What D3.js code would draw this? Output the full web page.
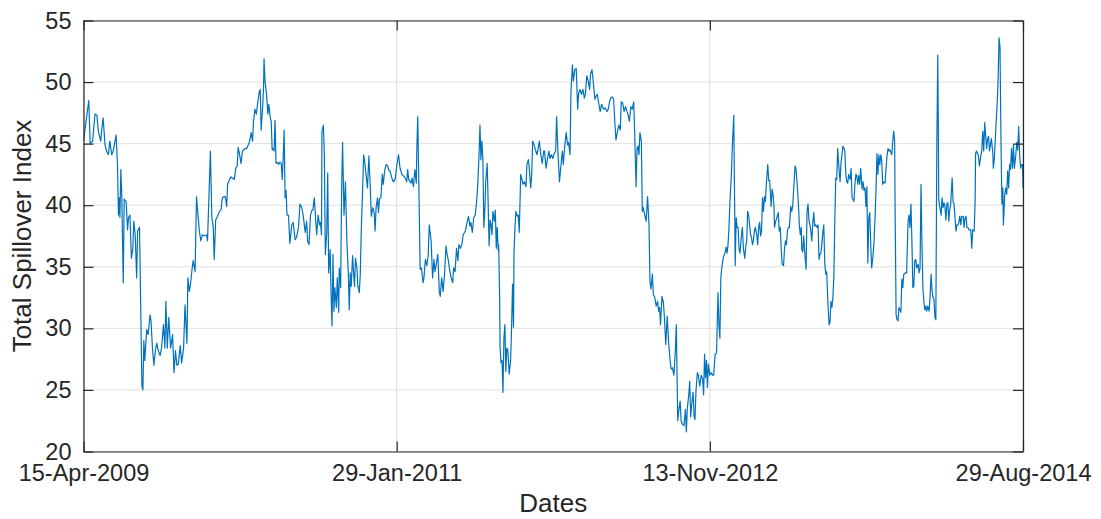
<!DOCTYPE html>
<html>
<head>
<meta charset="utf-8">
<script src="https://cdn.jsdelivr.net/npm/d3@7"></script>
<style>
  body { margin: 0; background: #fff; }
  #chart text { font-family: "Liberation Sans", Arial, Helvetica, sans-serif; fill: #262626; }
</style>
</head>
<body>
<div id="chart"></div>
<script>
// days elapsed since 15-Apr-2009 for each reading
const dayOffsets = [
  0, 11, 14, 19, 24, 28, 31, 36, 38, 41, 45, 48, 52, 55, 59, 62, 68, 71, 73, 75, 76, 78, 80, 83, 85, 89, 92, 94, 97, 100,
  103, 105, 108, 111, 113, 117, 122, 124, 126, 128, 132, 135, 139, 141, 144, 147, 150, 153, 156, 160, 163, 167, 170, 172, 175, 178, 182, 186, 189, 192,
  195, 198, 202, 205, 209, 212, 216, 218, 221, 224, 227, 229, 233, 236, 239, 242,
  245, 248, 252, 257, 259, 265, 268, 271, 273, 276, 280, 284, 287, 290, 293, 296, 299, 301, 305, 308, 311, 315, 318, 321, 323, 326, 329, 332, 335, 337,
  341, 344, 347, 350, 353, 355, 358, 361, 364, 367, 369, 371, 374, 376, 377, 379, 382, 385, 387, 390, 392, 394, 396, 398, 400, 402, 405, 407, 410, 413,
  415, 417, 419, 421, 423, 425, 428, 431, 435, 438, 442, 445, 449, 452, 456, 459, 463, 466, 468, 471, 474, 477, 479, 482,
  485, 487, 490, 493, 495, 497, 498, 501, 503, 505, 508, 510, 512, 515, 517, 519, 521, 523, 525, 528, 530, 533, 534, 537, 539, 541, 544, 547, 550, 553,
  555, 557, 559, 562, 564, 566, 568, 571, 573, 576, 578, 580, 583, 585, 587, 590, 593, 596, 599, 601, 604, 607, 609, 611, 614, 616, 618, 621, 624, 626,
  629, 632, 635, 638, 640, 644, 647, 651, 654, 658, 661, 665, 668, 672, 675, 677, 679, 682, 684, 686, 689, 692, 695, 696, 698, 700, 703, 706, 709, 711,
  714, 717, 720, 722,
  726, 729, 732, 734, 737, 740, 743, 745, 748, 751, 754, 757, 759, 762, 765, 768, 771, 773, 776, 779, 782, 784, 787, 790, 793, 796, 798, 801, 804, 807,
  809, 812, 815, 818, 821, 823, 826, 828, 830, 832, 834, 836, 838, 840, 843, 845, 847, 849, 851, 853, 855, 858, 860, 862, 864, 866, 867, 869, 870, 872,
  874, 876, 878, 880, 882, 884, 886, 889, 892, 894, 896, 898, 899, 901, 903, 906, 908, 910, 913, 915, 918, 921, 924, 926, 929, 931, 934, 936, 938, 941,
  944, 947, 949, 952, 955, 958, 961, 963,
  964, 966, 969, 972, 974, 977, 980, 983, 986, 988, 991, 994, 997, 1000, 1002, 1005, 1008, 1011, 1013, 1016, 1018, 1021, 1023, 1026, 1029, 1032, 1034, 1037, 1040, 1043,
  1046, 1048, 1051, 1054, 1057, 1059, 1062, 1065, 1068, 1071, 1073, 1076, 1079, 1082, 1085, 1087, 1090, 1093, 1096, 1098, 1101, 1104, 1107, 1110, 1112, 1115, 1118, 1121, 1123, 1126,
  1129, 1132, 1135, 1137, 1140, 1143, 1146, 1149, 1151, 1154, 1156, 1158, 1160, 1162, 1165, 1167, 1169, 1172, 1175, 1178, 1181, 1183, 1185, 1188, 1190, 1193, 1196, 1199, 1201, 1203,
  1205, 1208, 1211, 1213, 1216, 1219, 1222, 1225, 1227, 1230, 1233, 1236, 1238, 1241, 1243, 1246, 1248, 1251, 1254, 1257, 1259, 1261, 1264, 1266, 1268, 1270, 1273, 1275, 1277, 1279,
  1282, 1284, 1287, 1290, 1293, 1295, 1297, 1299, 1301, 1303, 1305, 1308, 1311, 1314, 1316, 1319, 1322, 1325, 1327, 1329, 1331, 1333, 1335, 1337, 1339, 1342, 1344, 1346, 1348, 1350,
  1353, 1355, 1358, 1361, 1363, 1365, 1367, 1369, 1371, 1374, 1376, 1378, 1381, 1383, 1385, 1387, 1389, 1391, 1393, 1395, 1397, 1399, 1401, 1403, 1406, 1408, 1410, 1412, 1414, 1416,
  1418, 1420, 1422, 1424, 1426, 1429, 1431, 1433, 1436, 1438, 1440, 1442, 1443,
  1445, 1448, 1451, 1453, 1455, 1457, 1459, 1462, 1464, 1466, 1468, 1470, 1472, 1474, 1477, 1479, 1481, 1484, 1486, 1488, 1491, 1493, 1495, 1497, 1499, 1500, 1502, 1504, 1507, 1509,
  1511, 1513, 1515, 1517, 1519, 1521, 1523, 1525, 1527, 1529, 1532, 1534, 1536, 1538, 1540, 1542, 1544, 1546, 1548, 1550, 1552, 1555, 1557, 1559, 1561, 1563, 1565, 1567, 1569, 1571,
  1573, 1575, 1578, 1580, 1582, 1584, 1586, 1588, 1590, 1592, 1594, 1596, 1598, 1601, 1603, 1605, 1607, 1609, 1611, 1613, 1615, 1617, 1619, 1621, 1623, 1626, 1628, 1630, 1632, 1634,
  1636, 1638, 1640, 1642, 1644, 1646, 1649, 1651, 1653, 1655, 1657, 1659, 1661, 1663, 1665, 1667, 1669, 1672, 1674, 1676, 1678, 1680, 1682, 1684,
  1685, 1688, 1690, 1692, 1694, 1695, 1697, 1699, 1701, 1703, 1705, 1707, 1709, 1711, 1713, 1716, 1719, 1722, 1724, 1726, 1728, 1730, 1732, 1734, 1736, 1738, 1740, 1743, 1745, 1747,
  1749, 1751, 1753, 1755, 1757, 1759, 1761, 1763, 1766, 1768, 1770, 1772, 1774, 1776, 1778, 1780, 1782, 1784, 1785, 1786, 1788, 1791, 1793, 1795, 1797, 1799, 1801, 1803, 1805, 1807,
  1809, 1811, 1814, 1816, 1818, 1820, 1822, 1824, 1826, 1828, 1830, 1832, 1834, 1837, 1839, 1841, 1843, 1845, 1847, 1849, 1851, 1853, 1855, 1857, 1860, 1862, 1863, 1865, 1867, 1869,
  1871, 1873, 1876, 1878, 1880, 1882, 1884, 1886, 1888, 1890, 1892, 1894, 1896, 1899, 1900, 1902, 1904, 1906, 1908, 1910, 1912, 1914, 1916, 1918, 1920, 1921, 1924, 1926, 1928, 1930,
  1932, 1934, 1936, 1938, 1940, 1942, 1944, 1947, 1949, 1951, 1953, 1955, 1957, 1959, 1961, 1962
]

const spillover = [
  45.2, 48.5, 45.0, 45.2, 47.4, 47.3, 46.0, 45.2, 46.1, 47.1, 44.9, 44.4, 44.1, 45.2, 44.1, 44.4, 45.7, 43.3, 39.2, 40.6, 39.0, 42.9, 40.7, 33.7, 40.5, 40.3, 38.0, 39.0, 39.2, 35.7,
  36.5, 38.7, 37.6, 34.1, 37.9, 38.2, 25.3, 25.0, 29.0, 27.4, 29.9, 29.5, 31.1, 30.6, 28.4, 27.0, 28.2, 28.8, 28.2, 27.8, 28.4, 30.3, 28.4, 32.2, 28.4, 30.9, 28.4, 29.5, 26.4, 28.2,
  27.0, 27.1, 28.6, 27.2, 28.4, 31.9, 28.8, 34.1, 33.0, 33.8, 34.9, 35.5, 34.6, 40.7, 39.2, 37.9,
  37.1, 37.6, 37.5, 37.6, 37.1, 44.4, 39.0, 38.2, 35.6, 38.8, 39.1, 39.5, 39.6, 40.6, 40.7, 40.7, 39.9, 41.7, 42.1, 42.3, 42.2, 42.1, 43.0, 43.2, 44.7, 44.1, 43.4, 44.4, 44.5, 44.6,
  44.6, 44.9, 45.2, 45.9, 45.2, 46.8, 47.8, 47.4, 48.4, 49.2, 49.4, 46.1, 47.9, 49.6, 51.9, 50.1, 49.1, 47.4, 48.2, 47.1, 46.8, 44.5, 44.6, 44.4, 46.9, 43.4, 43.5, 43.3, 43.5, 43.4,
  42.1, 43.8, 46.1, 40.6, 41.2, 39.2, 39.2, 36.9, 38.4, 38.6, 37.2, 37.4, 38.2, 40.1, 39.8, 39.1, 37.8, 38.7, 37.1, 36.8, 39.2, 39.6, 39.6, 40.6,
  38.7, 37.6, 39.2, 38.4, 38.6, 37.6, 46.0, 46.5, 44.1, 36.0, 37.8, 42.6, 34.5, 36.4, 32.8, 30.2, 36.0, 31.4, 33.3, 31.7, 34.1, 31.3, 34.9, 33.3, 41.1, 45.1, 39.2, 41.9, 37.1, 34.5,
  31.5, 34.5, 33.4, 35.9, 34.5, 33.4, 35.7, 34.9, 33.4, 32.9, 34.4, 37.8, 41.4, 44.1, 43.6, 42.5, 41.4, 44.0, 41.4, 39.1, 39.8, 39.4, 37.9, 39.8, 40.6, 39.4, 40.5, 40.6, 42.5, 41.7,
  42.8, 43.3, 43.2, 42.8, 42.8, 42.2, 41.9, 42.1, 43.2, 44.1, 43.0, 42.5, 42.4, 42.2, 41.9, 42.9, 42.1, 41.9, 41.8, 42.2, 41.5, 42.9, 41.8, 44.4, 47.2, 42.5, 34.8, 34.9, 33.7, 34.1,
  35.6, 35.1, 36.0, 38.4,
  37.1, 34.1, 35.6, 34.6, 35.3, 36.0, 33.0, 32.6, 34.1, 33.0, 34.4, 36.7, 36.1, 35.5, 34.6, 34.1, 33.7, 34.9, 34.6, 36.5, 35.5, 36.8, 36.5, 36.8, 37.6, 37.8, 38.0, 38.6, 39.1, 38.3,
  38.6, 37.8, 39.0, 39.2, 40.3, 41.4, 44.1, 46.5, 43.7, 45.2, 43.8, 38.2, 39.5, 41.9, 43.4, 40.3, 36.7, 38.8, 38.4, 37.6, 39.5, 38.7, 39.6, 36.5, 38.2, 36.3, 36.8, 32.5, 28.4, 27.2,
  27.4, 24.8, 29.2, 30.3, 26.5, 28.4, 28.3, 26.3, 27.4, 30.1, 33.6, 30.1, 36.0, 38.2, 39.5, 39.1, 39.2, 37.8, 42.5, 42.2, 41.7, 41.9, 41.5, 43.3, 43.7, 43.0, 41.4, 42.5, 45.2, 44.9,
  44.5, 44.1, 44.5, 45.2, 44.1, 43.4, 44.4, 44.4,
  43.8, 43.0, 43.8, 44.4, 43.8, 44.1, 43.8, 44.2, 44.4, 47.2, 44.1, 41.9, 43.2, 44.4, 43.3, 44.8, 45.9, 44.9, 45.1, 44.1, 49.2, 51.4, 50.1, 51.0, 51.1, 47.8, 49.1, 49.4, 49.0, 49.4,
  48.7, 49.0, 50.5, 50.1, 49.4, 50.7, 51.0, 49.8, 48.6, 48.9, 49.0, 48.3, 47.6, 48.2, 47.9, 47.8, 47.9, 47.6, 47.8, 48.3, 48.7, 48.8, 48.6, 46.5, 45.3, 46.0, 46.5, 46.1, 48.4, 48.3,
  47.6, 48.0, 47.6, 47.4, 46.8, 48.0, 47.8, 48.4, 46.0, 41.5, 44.6, 44.8, 44.1, 45.9, 45.2, 39.5, 39.8, 39.2, 38.7, 40.7, 38.4, 33.8, 33.2, 34.4, 32.8, 32.5, 31.8, 32.2, 31.4, 31.7,
  30.3, 32.6, 32.1, 31.0, 28.7, 31.0, 28.8, 27.4, 26.7, 26.8, 26.2, 28.2, 30.3, 22.5, 23.3, 24.1, 22.5, 22.2, 22.1, 23.4, 21.6, 23.5, 24.6, 25.7, 22.8, 23.8, 24.8, 22.9, 22.6, 24.9,
  26.4, 26.2, 25.3, 26.2, 25.9, 24.6, 27.9, 26.0, 27.4, 25.2, 27.1, 26.2, 26.4, 26.2, 26.2, 27.9, 28.0, 32.9, 30.3, 29.2, 34.1, 34.9, 35.5, 35.9, 36.0, 36.6, 36.1, 36.8, 38.2, 40.3,
  42.5, 44.8, 47.3, 35.1, 39.0, 38.2, 38.2, 36.5, 36.1, 37.5, 38.2, 36.5, 35.7, 36.6, 37.1, 39.5, 39.2, 38.4, 37.6, 37.4, 36.8, 37.1, 37.9, 38.2, 37.6, 36.8, 38.2, 38.6, 37.5, 37.9,
  40.6, 39.5, 40.7, 40.3, 41.7, 43.3, 42.0, 42.0, 39.9, 41.3, 40.9, 39.9, 38.2,
  38.6, 39.0, 39.4, 37.9, 38.2, 36.5, 35.2, 35.1, 36.5, 37.1, 36.8, 37.9, 38.2, 38.2, 39.9, 39.5, 39.9, 41.9, 43.2, 42.9, 41.4, 40.1, 38.3, 37.6, 38.2, 36.4, 36.2, 37.5, 35.7, 34.8,
  39.5, 40.1, 38.8, 38.4, 37.9, 37.1, 38.6, 39.4, 38.3, 38.4, 38.2, 38.4, 35.6, 36.0, 36.1, 36.9, 37.8, 38.4, 35.3, 34.4, 34.6, 31.7, 30.3, 30.5, 32.2, 31.7, 32.5, 34.2, 38.7, 42.2,
  42.1, 44.6, 42.8, 41.9, 43.5, 44.1, 44.8, 44.6, 44.4, 42.5, 41.9, 41.8, 42.5, 42.1, 43.0, 40.6, 40.5, 40.3, 41.7, 42.5, 42.4, 41.7, 42.4, 41.7, 43.0, 41.3, 41.9, 41.2, 41.4, 39.9,
  41.5, 35.3, 39.0, 39.4, 36.8, 34.9, 36.0, 37.1, 39.0, 41.2, 44.2, 42.5, 44.1, 43.3, 44.1, 43.6, 41.7, 41.9, 41.8, 43.0, 44.0, 44.6, 44.4, 44.5,
  44.4, 44.1, 45.2, 46.0, 45.2, 39.2, 31.1, 30.7, 30.6, 31.7, 31.5, 31.3, 34.0, 33.3, 34.4, 34.5, 34.5, 38.7, 39.2, 38.2, 40.1, 37.1, 33.3, 33.4, 35.5, 35.6, 34.9, 35.2, 34.5, 34.9,
  41.7, 36.8, 33.2, 32.2, 31.5, 31.8, 31.4, 31.8, 31.4, 32.6, 34.4, 33.1, 32.5, 32.4, 30.9, 30.7, 44.6, 52.2, 47.4, 40.5, 39.9, 39.2, 40.6, 39.8, 40.2, 39.9, 38.8, 40.1, 40.2, 38.7,
  39.6, 40.1, 42.2, 40.3, 40.1, 39.0, 37.9, 38.4, 38.4, 38.6, 39.1, 38.4, 39.1, 39.1, 38.2, 39.0, 39.1, 38.2, 38.2, 38.0, 38.0, 38.0, 36.5, 38.0, 37.9, 40.3, 44.2, 44.4, 44.2, 44.0,
  43.2, 43.8, 44.5, 46.0, 44.4, 46.7, 45.6, 44.6, 45.4, 45.6, 44.4, 44.9, 45.4, 44.2, 43.0, 43.7, 45.2, 46.8, 48.2, 50.1, 53.6, 52.8, 45.2, 40.1, 41.4, 38.4, 40.9, 41.4, 40.9, 42.8,
  41.4, 43.3, 42.9, 44.6, 43.0, 44.9, 43.0, 44.1, 45.1, 44.5, 46.4, 44.1, 43.0, 43.3, 43.3, 41.4
]

const startDate = new Date(2009, 3, 15)
const endDate = new Date(2014, 7, 29)
const xTickDates = [new Date(2009, 3, 15), new Date(2011, 0, 29), new Date(2012, 10, 13), new Date(2014, 7, 29)]
const yTicks = [20, 25, 30, 35, 40, 45, 50, 55]

const setSvg = (id) => {
    const margin = { top: 20.5, right: 78, bottom: 67.5, left: 83.5 }
    const width = 1101 - margin.left - margin.right
    const height = 519 - margin.top - margin.bottom

    const root = d3.select(`#${id}`)
    .append("svg")
        .attr("width", 1101)
        .attr("height", 519)
    const svg = root.append("g")
        .attr("transform", "translate(" + margin.left + "," + margin.top + ")")

    return { root, svg, width, height, margin }
}

const draw = () => {
    const { root, svg, width, height, margin } = setSvg("chart")
    const data = dayOffsets.map((d, i) => ({ date: d3.timeDay.offset(startDate, d), value: spillover[i] }))

    const xScale = d3.scaleTime().domain([startDate, endDate]).range([0, width])
    const yScale = d3.scaleLinear().domain([20, 55]).range([height, 0])

    // grid
    svg.append("g")
        .selectAll("line")
        .data(yTicks)
        .enter()
        .append("line")
            .attr("x1", 0).attr("x2", width)
            .attr("y1", (d) => yScale(d)).attr("y2", (d) => yScale(d))
            .attr("stroke", "#dfdfdf")
            .attr("stroke-width", 1)
    svg.append("g")
        .selectAll("line")
        .data(xTickDates)
        .enter()
        .append("line")
            .attr("x1", (d) => xScale(d)).attr("x2", (d) => xScale(d))
            .attr("y1", 0).attr("y2", height)
            .attr("stroke", "#dfdfdf")
            .attr("stroke-width", 1)

    svg.append("clipPath").attr("id", "plot-clip")
        .append("rect").attr("width", width).attr("height", height)

    const line = d3.line()
        .x((d) => xScale(d.date))
        .y((d) => yScale(d.value))

    svg.append("path")
        .datum(data)
        .attr("clip-path", "url(#plot-clip)")
        .attr("fill", "none")
        .attr("stroke", "#0072BD")
        .attr("stroke-width", 1.2)
        .attr("stroke-linejoin", "round")
        .attr("d", line)

    const fmt = d3.timeFormat("%d-%b-%Y")

    const styleAxis = (g, fontSize) => {
        g.select(".domain").attr("stroke", "#262626").attr("stroke-width", 1.2)
        g.selectAll(".tick line").attr("stroke", "#262626").attr("stroke-width", 1.2)
        g.selectAll("text").attr("fill", "#262626").style("font-size", fontSize)
    }

    svg.append("g")
        .attr("transform", "translate(0," + height + ")")
        .call(d3.axisBottom(xScale).tickValues(xTickDates).tickFormat(fmt).tickSizeInner(-10).tickSizeOuter(0).tickPadding(13))
        .call((g) => styleAxis(g, "23.5px"))
    svg.append("g")
        .call(d3.axisTop(xScale).tickValues(xTickDates).tickFormat("").tickSizeInner(-10).tickSizeOuter(0))
        .call((g) => styleAxis(g, "0px"))
    svg.append("g")
        .call(d3.axisLeft(yScale).tickValues(yTicks).tickSizeInner(-10).tickSizeOuter(0).tickPadding(12))
        .call((g) => styleAxis(g, "23.5px"))
    svg.append("g")
        .attr("transform", "translate(" + width + ",0)")
        .call(d3.axisRight(yScale).tickValues(yTicks).tickFormat("").tickSizeInner(-10).tickSizeOuter(0))
        .call((g) => styleAxis(g, "0px"))

    svg.selectAll("text").style("font-family", "'Liberation Sans', Arial, Helvetica, sans-serif")

    // axis titles
    root.append("text")
        .attr("x", margin.left + width / 2)
        .attr("y", 512)
        .attr("text-anchor", "middle")
        .style("font-size", "26px")
        .text("Dates")
    root.append("text")
        .attr("transform", "translate(31," + (margin.top + height / 2) + ")rotate(-90)")
        .attr("text-anchor", "middle")
        .style("font-size", "26px")
        .text("Total Spillover Index")
}

draw()
</script>
</body>
</html>
